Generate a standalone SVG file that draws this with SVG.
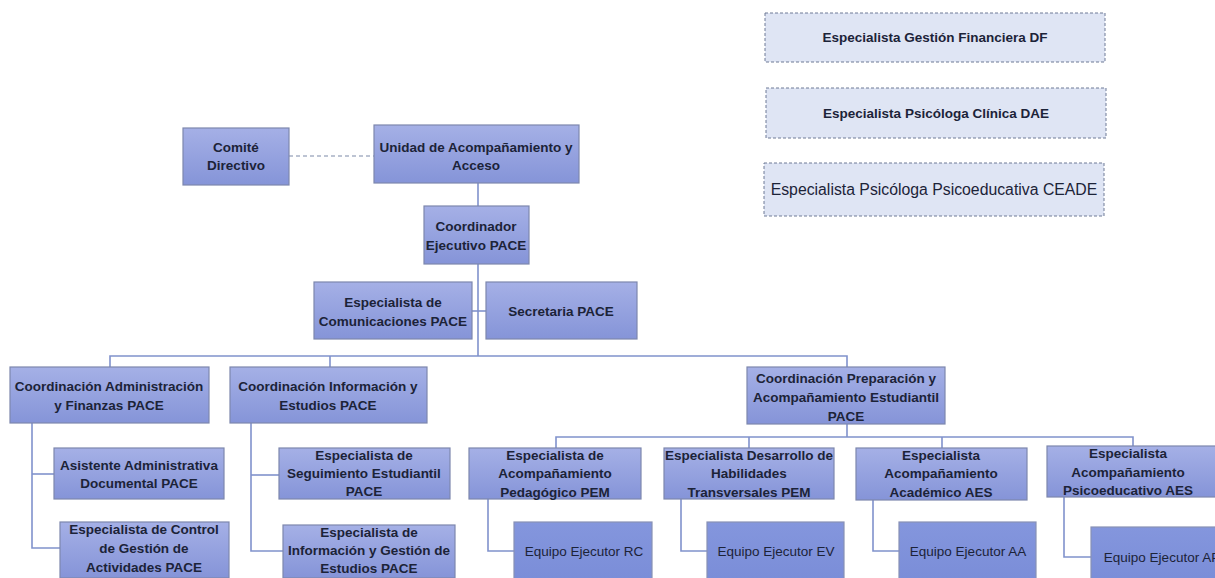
<svg xmlns="http://www.w3.org/2000/svg" width="1215" height="578" viewBox="0 0 1215 578">
<defs>
<linearGradient id="g" x1="0" y1="0" x2="0" y2="1">
<stop offset="0" stop-color="#a5b0e6"/>
<stop offset="1" stop-color="#8594d8"/>
</linearGradient>
<linearGradient id="g2" x1="0" y1="0" x2="0" y2="1">
<stop offset="0" stop-color="#8496dd"/>
<stop offset="1" stop-color="#7a8dd8"/>
</linearGradient>
<style>
.b{fill:url(#g);stroke:#7d87ad;stroke-width:1.2}
.e{fill:url(#g2);stroke:#8891b5;stroke-width:1.2}
.d{fill:#dfe5f4;stroke:#6e7a96;stroke-width:1;stroke-dasharray:3,2}
text{font-family:"Liberation Sans",Arial,sans-serif;font-size:13.5px;font-weight:bold;fill:#1c2338;text-anchor:middle;dominant-baseline:central}
.n{font-weight:normal}
.c{fill:none;stroke:#8092cc;stroke-width:1.6}
.cd{fill:none;stroke:#7d89a8;stroke-width:1.2;stroke-dasharray:4,3}
</style>
</defs>
<rect width="1215" height="578" fill="#ffffff"/>

<g id="connectors">
<line class="cd" x1="289" y1="156" x2="374" y2="156"/>
<line class="c" x1="478" y1="183" x2="478" y2="206"/>
<line class="c" x1="478" y1="264" x2="478" y2="356"/>
<line class="c" x1="472" y1="311" x2="486" y2="311"/>
<polyline class="c" points="110,367 110,356 847,356 847,367"/>
<line class="c" x1="330" y1="356" x2="330" y2="367"/>
<polyline class="c" points="847,424 847,437"/>
<polyline class="c" points="556,448 556,437 1133,437 1133,446"/>
<line class="c" x1="749" y1="437" x2="749" y2="448"/>
<line class="c" x1="942" y1="437" x2="942" y2="448"/>
<polyline class="c" points="32,423 32,548 60,548"/>
<line class="c" x1="32" y1="474" x2="54" y2="474"/>
<polyline class="c" points="251,423 251,551 283,551"/>
<line class="c" x1="251" y1="475" x2="279" y2="475"/>
<polyline class="c" points="488,499 488,551 514,551"/>
<polyline class="c" points="681,499 681,551 707,551"/>
<polyline class="c" points="873,500 873,551 899,551"/>
<polyline class="c" points="1064,497 1064,557 1091,557"/>
</g>

<g id="n-df"><rect class="d" x="765" y="13" width="340" height="49"/><text x="935" y="37">Especialista Gestión Financiera DF</text></g>
<g id="n-dae"><rect class="d" x="766" y="88" width="340" height="50"/><text x="936" y="113">Especialista Psicóloga Clínica DAE</text></g>
<g id="n-ceade"><rect class="d" x="764" y="163" width="340" height="53"/><text class="n" x="934" y="189" style="font-size:15.8px">Especialista Psicóloga Psicoeducativa CEADE</text></g>

<g id="n-comite"><rect class="b" x="183" y="128" width="106" height="57"/><text x="236" y="147">Comité</text><text x="236" y="165">Directivo</text></g>
<g id="n-unidad"><rect class="b" x="374" y="125" width="205" height="58"/><text x="476" y="147">Unidad de Acompañamiento y</text><text x="476" y="165">Acceso</text></g>
<g id="n-coord"><rect class="b" x="424" y="206" width="105" height="58"/><text x="476" y="226">Coordinador</text><text x="476" y="245">Ejecutivo PACE</text></g>
<g id="n-comunic"><rect class="b" x="314" y="282" width="158" height="57"/><text x="393" y="302">Especialista de</text><text x="393" y="321">Comunicaciones PACE</text></g>
<g id="n-secre"><rect class="b" x="486" y="282" width="151" height="57"/><text x="561" y="311">Secretaria PACE</text></g>

<g id="n-admin"><rect class="b" x="10" y="367" width="199" height="56"/><text x="109" y="386">Coordinación Administración</text><text x="109" y="405">y Finanzas PACE</text></g>
<g id="n-info"><rect class="b" x="230" y="367" width="197" height="56"/><text x="328" y="386">Coordinación Información y</text><text x="328" y="405">Estudios PACE</text></g>
<g id="n-prep"><rect class="b" x="747" y="367" width="198" height="57"/><text x="846" y="378">Coordinación Preparación y</text><text x="846" y="397">Acompañamiento Estudiantil</text><text x="846" y="416">PACE</text></g>

<g id="n-asist"><rect class="b" x="54" y="448" width="170" height="51"/><text x="139" y="465">Asistente Administrativa</text><text x="139" y="483">Documental PACE</text></g>
<g id="n-control"><rect class="b" x="60" y="522" width="169" height="56"/><text x="144" y="529">Especialista de Control</text><text x="144" y="548">de Gestión de</text><text x="144" y="567">Actividades PACE</text></g>
<g id="n-segui"><rect class="b" x="279" y="448" width="171" height="51"/><text x="364" y="455">Especialista de</text><text x="364" y="473">Seguimiento Estudiantil</text><text x="364" y="491">PACE</text></g>
<g id="n-infoges"><rect class="b" x="283" y="525" width="172" height="53"/><text x="369" y="532">Especialista de</text><text x="369" y="550">Información y Gestión de</text><text x="369" y="568">Estudios PACE</text></g>

<g id="n-pedag"><rect class="b" x="469" y="448" width="172" height="51"/><text x="555" y="455">Especialista de</text><text x="555" y="473">Acompañamiento</text><text x="555" y="492">Pedagógico PEM</text></g>
<g id="n-desarr"><rect class="b" x="664" y="448" width="170" height="51"/><text x="749" y="455">Especialista Desarrollo de</text><text x="749" y="473">Habilidades</text><text x="749" y="492">Transversales PEM</text></g>
<g id="n-acad"><rect class="b" x="856" y="448" width="171" height="52"/><text x="941" y="455">Especialista</text><text x="941" y="473">Acompañamiento</text><text x="941" y="492">Académico AES</text></g>
<g id="n-psico"><rect class="b" x="1047" y="446" width="172" height="51"/><text x="1128" y="453">Especialista</text><text x="1128" y="472">Acompañamiento</text><text x="1128" y="490">Psicoeducativo AES</text></g>

<g id="n-rc"><rect class="e" x="514" y="522" width="138" height="60"/><text class="n" x="584" y="551">Equipo Ejecutor RC</text></g>
<g id="n-ev"><rect class="e" x="707" y="522" width="137" height="60"/><text class="n" x="776" y="551">Equipo Ejecutor EV</text></g>
<g id="n-aa"><rect class="e" x="899" y="522" width="137" height="60"/><text class="n" x="968" y="551">Equipo Ejecutor AA</text></g>
<g id="n-ap"><rect class="e" x="1091" y="527" width="140" height="55"/><text class="n" x="1162" y="557">Equipo Ejecutor AP</text></g>
</svg>
